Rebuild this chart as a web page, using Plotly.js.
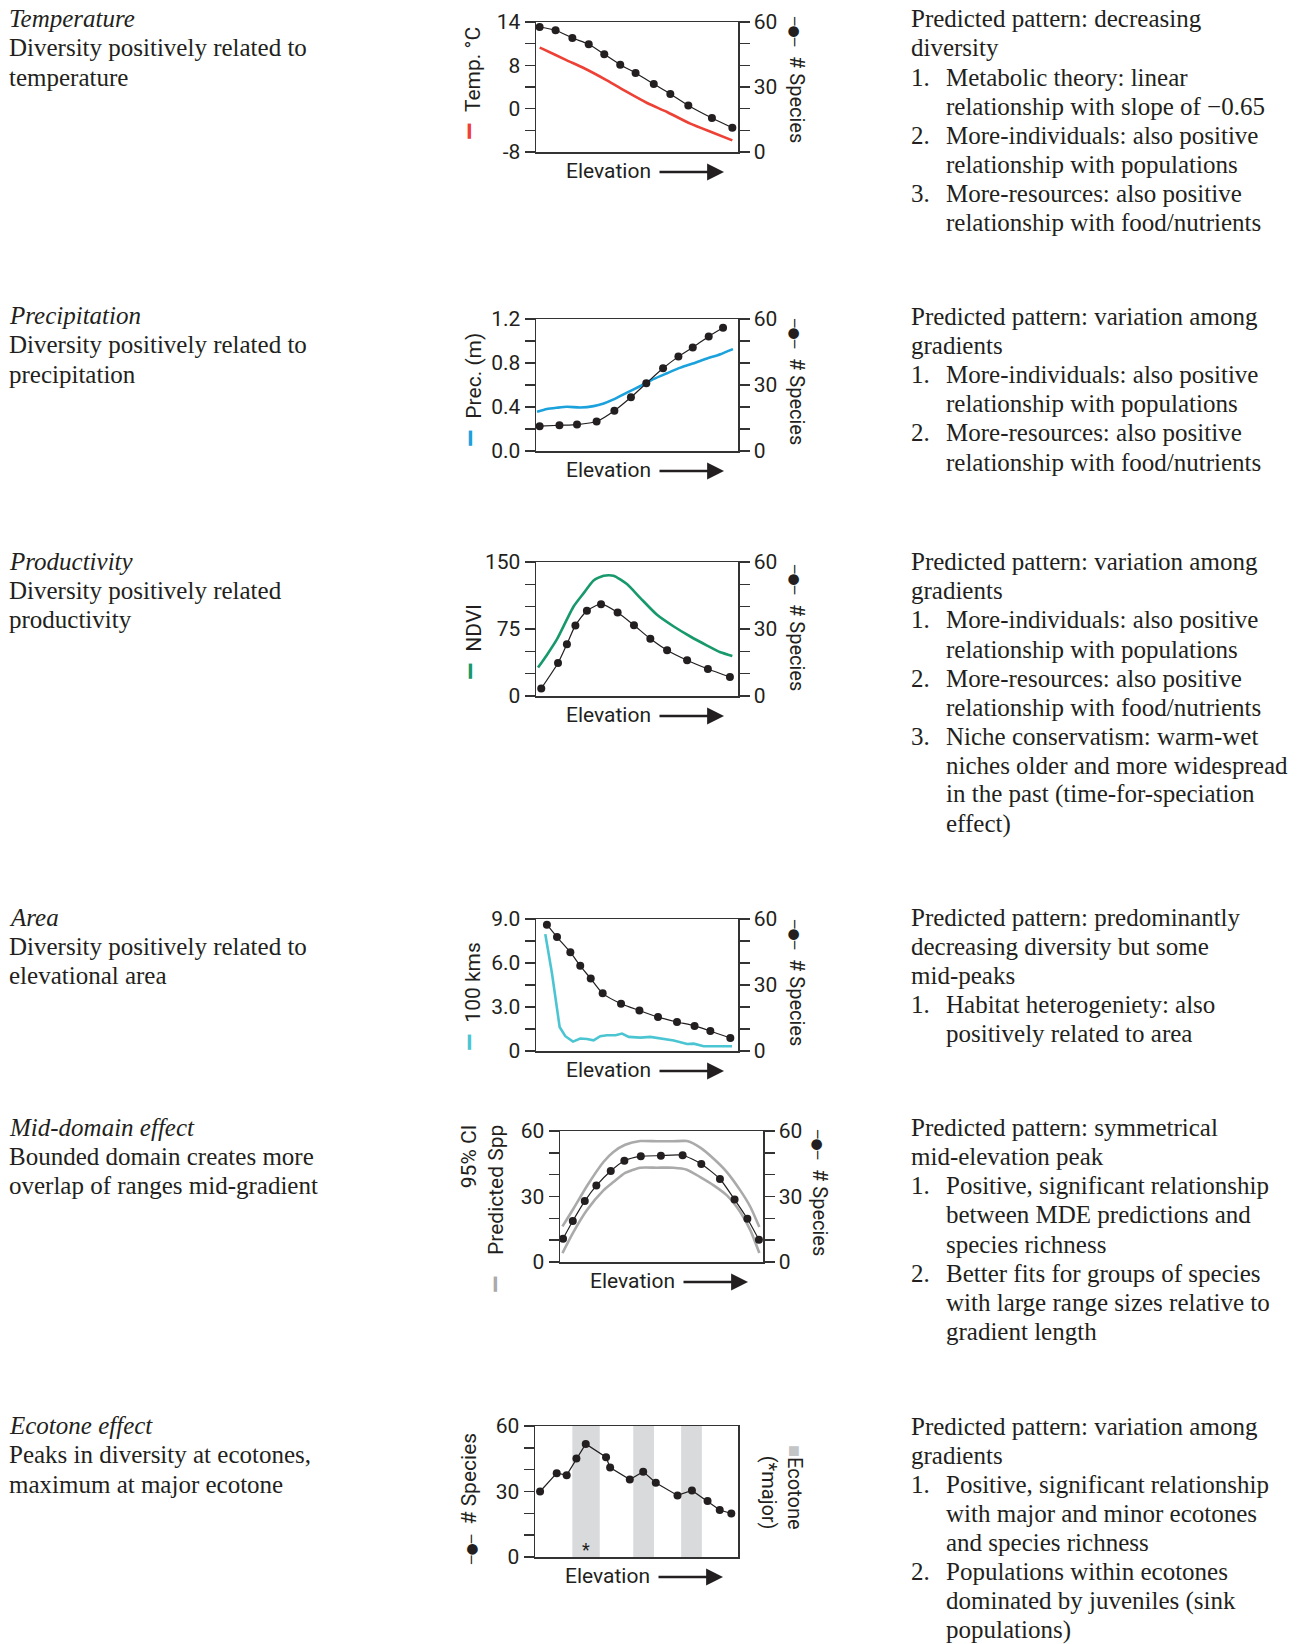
<!DOCTYPE html>
<html><head><meta charset="utf-8">
<script src="https://cdn.plot.ly/plotly-3.0.1.min.js"></script>
<style>html,body{margin:0;padding:0;background:#fff}</style>
</head><body>
<div id="chart" style="width:1300px;height:1644px"></div>
<script>
// ---------------- DATA ----------------
// Panel 1: Temperature
const tempSppX = [1.8, 9.7, 18.0, 26.1, 33.8, 41.7, 49.3, 58.3, 66.5, 75.4, 87.1, 97.2];
const tempSppY = [57.7, 56.2, 52.6, 49.7, 45.1, 40.3, 36.5, 31.4, 26.8, 21.5, 15.7, 11.2];
const tempLineX = [1.8, 3.8, 15.3, 23.6, 35.1, 45.0, 55.0, 64.9, 76.4, 88.0, 97.2];
const tempLineY = [11.26, 10.95, 8.92, 7.51, 5.23, 3.08, 1.05, -0.62, -2.77, -4.49, -5.85];
const tempTickVals = [-8, -4, 0, 4, 8, 12, 16];
const tempTickText = ['-8', '', '0', '', '8', '', '14'];

// Panel 2: Precipitation
const precSppX = [1.8, 11.6, 20.3, 30.0, 38.8, 47.0, 54.6, 62.9, 70.5, 77.6, 85.5, 92.6];
const precSppY = [11.3, 11.7, 12.0, 13.4, 18.3, 24.4, 30.8, 37.6, 42.9, 47.1, 52.1, 56.0];
const precLineX = [0.5, 5.4, 10.4, 15.3, 21.9, 28.5, 33.5, 38.4, 45.0, 51.7, 58.3, 64.9, 71.5, 78.1, 84.7, 91.3, 97.5];
const precLineY = [0.356, 0.381, 0.393, 0.402, 0.396, 0.408, 0.432, 0.469, 0.530, 0.591, 0.655, 0.707, 0.758, 0.798, 0.841, 0.880, 0.926];
const precTickVals = [0, 0.2, 0.4, 0.6, 0.8, 1.0, 1.2];
const precTickText = ['0.0', '', '0.4', '', '0.8', '', '1.2'];

// Panel 3: Productivity
const ndviSppX = [2.6, 10.9, 15.3, 19.5, 25.2, 32.2, 40.4, 48.5, 56.6, 64.9, 74.8, 85.1, 96.0];
const ndviSppY = [3.4, 14.8, 23.2, 31.6, 38.2, 41.1, 37.4, 31.7, 25.6, 20.5, 16.0, 12.1, 8.5];
const ndviLineX = [1.0, 5.4, 10.4, 18.6, 23.6, 28.5, 33.5, 38.4, 45.0, 51.7, 59.9, 68.2, 76.4, 84.7, 91.3, 97.2];
const ndviLineY = [31.8, 46.0, 63.6, 100.2, 115.2, 129.4, 134.7, 134.7, 125.3, 109.6, 90.9, 77.8, 66.6, 56.5, 49.0, 44.9];
const ndviTickVals = [0, 25, 50, 75, 100, 125, 150];
const ndviTickText = ['0', '', '', '75', '', '', '150'];

// Panel 4: Area
const areaSppX = [5.4, 10.4, 17.0, 21.9, 27.1, 33.0, 42.1, 51.2, 60.4, 69.8, 78.5, 86.3, 96.2];
const areaSppY = [57.4, 51.8, 44.9, 38.7, 32.9, 26.2, 21.5, 18.4, 15.4, 13.2, 11.4, 9.1, 5.9];
const areaLineX = [4.6, 7.9, 11.7, 14.5, 18.3, 21.9, 25.2, 28.5, 31.8, 35.1, 39.3, 42.6, 45.9, 51.7, 56.6, 61.6, 68.2, 74.8, 78.1, 83.0, 89.6, 97.0];
const areaLineY = [7.97, 5.30, 1.64, 1.01, 0.64, 0.85, 0.82, 0.73, 1.01, 1.07, 1.07, 1.19, 0.96, 0.91, 0.96, 0.85, 0.71, 0.48, 0.50, 0.32, 0.32, 0.32];
const areaTickVals = [0, 1.5, 3, 4.5, 6, 7.5, 9];
const areaTickText = ['0', '', '3.0', '', '6.0', '', '9.0'];

// Panel 5: Mid-domain effect
const mdeSppX = [1.5, 6.3, 12.2, 17.9, 25.0, 31.7, 39.8, 49.7, 60.4, 69.6, 78.8, 86.0, 92.3, 98.0];
const mdeSppY = [10.7, 18.8, 27.9, 35.0, 41.7, 46.4, 48.4, 48.7, 48.9, 44.9, 38.0, 28.6, 19.8, 10.2];
const mdeCiX = [1.2, 6.6, 13.2, 21.4, 26.3, 32.1, 39.5, 47.7, 55.9, 62.5, 69.1, 75.7, 82.2, 88.8, 93.8, 98.2];
const mdeUpper = [16.3, 24.4, 34.7, 45.8, 50.4, 53.7, 55.4, 55.3, 55.3, 55.4, 52.4, 47.3, 41.2, 32.8, 25.2, 16.0];
const mdeLower = [4.1, 13.7, 23.7, 32.8, 36.6, 40.8, 43.2, 43.2, 43.2, 42.3, 38.9, 35.1, 30.5, 22.9, 14.5, 4.1];

// Panel 6: Ecotone effect
const ecoSppX = [2.5, 10.7, 15.6, 20.4, 25.0, 35.0, 37.0, 46.7, 53.3, 59.5, 70.2, 77.3, 85.0, 91.0, 96.7];
const ecoSppY = [30.0, 38.4, 37.5, 45.1, 51.8, 45.7, 41.0, 35.5, 39.1, 34.0, 28.2, 30.5, 25.6, 21.5, 19.9];
const ecotoneStart = [18.4, 48.4, 72.0];
const ecotoneEnd = [31.9, 58.6, 82.2];
const ecotoneMajor = [true, false, false];

// Species axis ticks (shared)
const sppTickVals = [0, 10, 20, 30, 40, 50, 60];
const sppTickText = ['0', '', '', '30', '', '', '60'];

// Text blocks
const leftBlocks = [
  ['Temperature', 'Diversity positively related to', 'temperature'],
  ['Precipitation', 'Diversity positively related to', 'precipitation'],
  ['Productivity', 'Diversity positively related', 'productivity'],
  ['Area', 'Diversity positively related to', 'elevational area'],
  ['Mid-domain effect', 'Bounded domain creates more', 'overlap of ranges mid-gradient'],
  ['Ecotone effect', 'Peaks in diversity at ecotones,', 'maximum at major ecotone']
];
const rightBlocks = [
  ['Predicted pattern: decreasing', 'diversity',
   '1. Metabolic theory: linear', 'relationship with slope of \u22120.65',
   '2. More-individuals: also positive', 'relationship with populations',
   '3. More-resources: also positive', 'relationship with food/nutrients'],
  ['Predicted pattern: variation among', 'gradients',
   '1. More-individuals: also positive', 'relationship with populations',
   '2. More-resources: also positive', 'relationship with food/nutrients'],
  ['Predicted pattern: variation among', 'gradients',
   '1. More-individuals: also positive', 'relationship with populations',
   '2. More-resources: also positive', 'relationship with food/nutrients',
   '3. Niche conservatism: warm-wet', 'niches older and more widespread',
   'in the past (time-for-speciation', 'effect)'],
  ['Predicted pattern: predominantly', 'decreasing diversity but some', 'mid-peaks',
   '1. Habitat heterogeniety: also', 'positively related to area'],
  ['Predicted pattern: symmetrical', 'mid-elevation peak',
   '1. Positive, significant relationship', 'between MDE predictions and', 'species richness',
   '2. Better fits for groups of species', 'with large range sizes relative to', 'gradient length'],
  ['Predicted pattern: variation among', 'gradients',
   '1. Positive, significant relationship', 'with major and minor ecotones', 'and species richness',
   '2. Populations within ecotones', 'dominated by juveniles (sink', 'populations)']
];

// ---------------- STYLE / LAYOUT ----------------
const W = 1300, H = 1644;
const fx = v => v / W, fy = v => 1 - v / H;
const INK = '#231f20', AX = '#333333';
const SERIF = '"Liberation Serif", "Times New Roman", serif';
const SANS = 'Roboto, "Liberation Sans", sans-serif';
const TXT = 25, LINE = 29.1;
const C_RED = '#ee4136', C_BLUE = '#1ba1dc', C_GREEN = '#17996b', C_CYAN = '#4cc5d3', C_GRAY = '#aaaaaa', C_BAND = '#d9dadc';

const blockTops = [18.9, 315.8, 561.2, 917, 1127.6, 1425.8];
const rightTops = [18.9, 316.5, 561.7, 917, 1127.6, 1426.3];

const dash = c => '<b><span style="color:' + c + ';font-size:30px">\u2013</span></b> ';
const SYM = '<span style="font-family:DejaVu Sans;font-size:14px">\u2500\u25cf\u2500</span> ';

const panels = [
  {box: [536, 738, 22, 152], lrange: [-8, 16], lvals: tempTickVals, ltext: tempTickText, right: true,
   ltitle: {text: dash(C_RED) + ' Temp. \u00b0C', x: 469, y: 84}},
  {box: [536, 738, 319, 451], lrange: [0, 1.2], lvals: precTickVals, ltext: precTickText, right: true,
   ltitle: {text: dash(C_BLUE) + ' Prec. (m)', x: 470, y: 391}},
  {box: [536, 738, 562, 696], lrange: [0, 150], lvals: ndviTickVals, ltext: ndviTickText, right: true,
   ltitle: {text: dash(C_GREEN) + ' NDVI', x: 470, y: 643}},
  {box: [536, 738, 919, 1051], lrange: [0, 9], lvals: areaTickVals, ltext: areaTickText, right: true,
   ltitle: {text: dash(C_CYAN) + ' 100 kms', x: 470, y: 997}},
  {box: [560, 763, 1131, 1262], lrange: [0, 60], lvals: sppTickVals, ltext: sppTickText, right: true,
   ltitle: {text: '95% CI<br>Predicted Spp', x: 482, y: 1190, align: 'right'}},
  {box: [535, 738, 1426, 1557], lrange: [0, 60], lvals: sppTickVals, ltext: sppTickText, right: false,
   ltitle: {text: SYM + ' # Species', x: 469, y: 1499}}
];
const rightTitleX = [797, 797, 797, 797, 820];
const rightTitleY = [79, 381, 627, 982, 1192];

const layout = {
  width: W, height: H, margin: {l: 0, r: 0, t: 0, b: 0},
  paper_bgcolor: '#ffffff', plot_bgcolor: 'rgba(0,0,0,0)',
  showlegend: false, hovermode: false,
  annotations: [], shapes: []
};
const axBase = {
  showgrid: false, zeroline: false, showline: true, linecolor: AX, linewidth: 1.5,
  ticks: 'outside', ticklen: 10, tickwidth: 1.5, tickcolor: AX,
  tickfont: {family: SANS, size: 21, color: INK}, fixedrange: true, tickmode: 'array'
};
panels.forEach((p, i) => {
  const n = i + 1;
  const xid = n === 1 ? 'x' : 'x' + n;
  const lid = 2 * n - 1, rid = 2 * n;
  const lyid = lid === 1 ? 'y' : 'y' + lid;
  const [x0, x1, y0, y1] = p.box;
  layout[n === 1 ? 'xaxis' : 'xaxis' + n] = {
    domain: [fx(x0), fx(x1)], range: [0, 100], showline: true, mirror: true,
    linecolor: AX, linewidth: 1.5, ticks: '', showticklabels: false,
    showgrid: false, zeroline: false, anchor: lyid, fixedrange: true
  };
  layout[lid === 1 ? 'yaxis' : 'yaxis' + lid] = Object.assign({}, axBase, {
    domain: [fy(y1), fy(y0)], range: p.lrange, tickvals: p.lvals, ticktext: p.ltext,
    anchor: xid, side: 'left', mirror: p.right ? false : true
  });
  if (p.right) {
    layout['yaxis' + rid] = Object.assign({}, axBase, {
      overlaying: lyid, side: 'right', anchor: xid, range: [0, 60],
      tickvals: sppTickVals, ticktext: sppTickText
    });
  }
  // left title
  layout.annotations.push({
    xref: 'paper', yref: 'paper', x: fx(p.ltitle.x), y: fy(p.ltitle.y),
    xanchor: 'center', yanchor: 'middle', textangle: -90, showarrow: false,
    text: p.ltitle.text, align: p.ltitle.align || 'center',
    font: {family: SANS, size: 21, color: INK}
  });
  // Elevation label + arrow
  const yb = y1 + 19;
  layout.annotations.push({
    xref: 'paper', yref: 'paper', x: fx(x0 + 72), y: fy(yb), xanchor: 'center', yanchor: 'middle',
    text: 'Elevation', showarrow: false, font: {family: SANS, size: 21, color: INK}
  });
  layout.annotations.push({
    xref: 'paper', yref: 'paper', x: fx(x0 + 188), y: fy(yb + 1), ax: -66, ay: 0,
    text: '', showarrow: true, arrowhead: 2, arrowsize: 1.3, arrowwidth: 2.6, arrowcolor: INK
  });
});
// right titles
rightTitleX.forEach((xx, i) => {
  layout.annotations.push({
    xref: 'paper', yref: 'paper', x: fx(xx), y: fy(rightTitleY[i]),
    xanchor: 'center', yanchor: 'middle', textangle: 90, showarrow: false,
    text: SYM + ' # Species', font: {family: SANS, size: 20, color: INK}
  });
});
// gray dash for CI legend in panel 5
layout.annotations.push({
  xref: 'paper', yref: 'paper', x: fx(495), y: fy(1285), xanchor: 'center', yanchor: 'middle',
  textangle: -90, showarrow: false, text: '<b>\u2013</b>', font: {family: SANS, size: 30, color: C_GRAY}
});
// Ecotone label
layout.annotations.push({
  xref: 'paper', yref: 'paper', x: fx(782), y: fy(1487), xanchor: 'center', yanchor: 'middle',
  textangle: 90, showarrow: false, align: 'right',
  text: '<span style="color:#c4c5c7">\u25a0</span>Ecotone<br>(*major)',
  font: {family: SANS, size: 20, color: INK}
});
// ecotone bands
ecotoneStart.forEach((s, i) => {
  layout.shapes.push({
    type: 'rect', xref: 'x6', yref: 'y11 domain', x0: s, x1: ecotoneEnd[i], y0: 0, y1: 1,
    fillcolor: C_BAND, line: {width: 0}, layer: 'below'
  });
  if (ecotoneMajor[i]) {
    layout.annotations.push({
      xref: 'x6', yref: 'y11', x: (s + ecotoneEnd[i]) / 2, y: 3.5, text: '*', showarrow: false,
      xanchor: 'center', yanchor: 'middle', font: {family: SANS, size: 18, color: INK}
    });
  }
});

// text blocks
function addBlock(lines, xLeft, xIndent, yTop, italicFirst) {
  let indent = false;
  lines.forEach((ln, k) => {
    const yc = fy(yTop + k * LINE);
    const m = ln.match(/^(\d\.)\s+(.*)$/);
    const font = {family: SERIF, size: TXT, color: INK};
    if (m) {
      indent = true;
      layout.annotations.push({xref: 'paper', yref: 'paper', x: fx(xLeft), y: yc, xanchor: 'left', yanchor: 'middle', showarrow: false, text: m[1], font});
      layout.annotations.push({xref: 'paper', yref: 'paper', x: fx(xIndent), y: yc, xanchor: 'left', yanchor: 'middle', showarrow: false, text: m[2], font});
    } else {
      const t = (italicFirst && k === 0) ? '<i>' + ln + '</i>' : ln;
      layout.annotations.push({xref: 'paper', yref: 'paper', x: fx(indent ? xIndent : xLeft), y: yc, xanchor: 'left', yanchor: 'middle', showarrow: false, text: t, font});
    }
  });
}
leftBlocks.forEach((b, i) => addBlock(b, 7, 7, blockTops[i], true));
rightBlocks.forEach((b, i) => addBlock(b, 909, 944, rightTops[i], false));

// ---------------- TRACES ----------------
function spp(x, y, xa, ya, shape) {
  return {x, y, xaxis: xa, yaxis: ya, type: 'scatter', mode: 'lines+markers',
    line: {color: INK, width: 1.2, shape: shape || 'spline', smoothing: 0.6},
    marker: {size: 8, color: INK}, cliponaxis: false};
}
function env(x, y, xa, ya, color, shape, width) {
  return {x, y, xaxis: xa, yaxis: ya, type: 'scatter', mode: 'lines',
    line: {color, width: width || 2.6, shape: shape || 'spline', smoothing: 0.6}};
}
const traces = [
  env(tempLineX, tempLineY, 'x', 'y', C_RED),
  spp(tempSppX, tempSppY, 'x', 'y2'),
  env(precLineX, precLineY, 'x2', 'y3', C_BLUE),
  spp(precSppX, precSppY, 'x2', 'y4'),
  env(ndviLineX, ndviLineY, 'x3', 'y5', C_GREEN),
  spp(ndviSppX, ndviSppY, 'x3', 'y6'),
  env(areaLineX, areaLineY, 'x4', 'y7', C_CYAN, 'linear'),
  spp(areaSppX, areaSppY, 'x4', 'y8'),
  env(mdeCiX, mdeUpper, 'x5', 'y9', C_GRAY),
  env(mdeCiX, mdeLower, 'x5', 'y9', C_GRAY),
  spp(mdeSppX, mdeSppY, 'x5', 'y10'),
  spp(ecoSppX, ecoSppY, 'x6', 'y11', 'linear')
];

Plotly.newPlot('chart', traces, layout, {displayModeBar: false, staticPlot: true});
</script>
</body></html>
